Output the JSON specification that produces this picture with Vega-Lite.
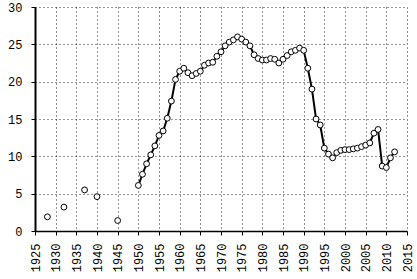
{
  "$schema": "https://vega.github.io/schema/vega-lite/v6.json",
  "width": 372,
  "height": 224,
  "autosize": {"type": "none"},
  "padding": {"left": 35, "top": 7, "right": 10, "bottom": 48},
  "background": "white",
  "config": {
    "view": {"stroke": null},
    "axis": {"labelFont": "Liberation Mono", "labelFontSize": 12, "labelColor": "black", "domainColor": "black", "tickColor": "black", "gridColor": "black", "gridDash": [1, 3], "gridOpacity": 0.85}
  },
  "data": {"values": [
    {"year": 1928, "value": 1.9, "g": "early"},
    {"year": 1932, "value": 3.2, "g": "early"},
    {"year": 1937, "value": 5.5, "g": "early"},
    {"year": 1940, "value": 4.6, "g": "early"},
    {"year": 1945, "value": 1.4, "g": "early"},
    {"year": 1950, "value": 6.1, "g": "main"},
    {"year": 1951, "value": 7.6, "g": "main"},
    {"year": 1952, "value": 9.0, "g": "main"},
    {"year": 1953, "value": 10.2, "g": "main"},
    {"year": 1954, "value": 11.4, "g": "main"},
    {"year": 1955, "value": 12.8, "g": "main"},
    {"year": 1956, "value": 13.4, "g": "main"},
    {"year": 1957, "value": 15.1, "g": "main"},
    {"year": 1958, "value": 17.4, "g": "main"},
    {"year": 1959, "value": 20.3, "g": "main"},
    {"year": 1960, "value": 21.4, "g": "main"},
    {"year": 1961, "value": 21.8, "g": "main"},
    {"year": 1962, "value": 21.2, "g": "main"},
    {"year": 1963, "value": 20.8, "g": "main"},
    {"year": 1964, "value": 21.1, "g": "main"},
    {"year": 1965, "value": 21.4, "g": "main"},
    {"year": 1966, "value": 22.2, "g": "main"},
    {"year": 1967, "value": 22.5, "g": "main"},
    {"year": 1968, "value": 22.6, "g": "main"},
    {"year": 1969, "value": 23.4, "g": "main"},
    {"year": 1970, "value": 24.0, "g": "main"},
    {"year": 1971, "value": 24.8, "g": "main"},
    {"year": 1972, "value": 25.3, "g": "main"},
    {"year": 1973, "value": 25.6, "g": "main"},
    {"year": 1974, "value": 26.0, "g": "main"},
    {"year": 1975, "value": 25.7, "g": "main"},
    {"year": 1976, "value": 25.3, "g": "main"},
    {"year": 1977, "value": 24.8, "g": "main"},
    {"year": 1978, "value": 23.6, "g": "main"},
    {"year": 1979, "value": 23.1, "g": "main"},
    {"year": 1980, "value": 22.9, "g": "main"},
    {"year": 1981, "value": 22.9, "g": "main"},
    {"year": 1982, "value": 23.1, "g": "main"},
    {"year": 1983, "value": 23.0, "g": "main"},
    {"year": 1984, "value": 22.5, "g": "main"},
    {"year": 1985, "value": 23.0, "g": "main"},
    {"year": 1986, "value": 23.5, "g": "main"},
    {"year": 1987, "value": 24.0, "g": "main"},
    {"year": 1988, "value": 24.2, "g": "main"},
    {"year": 1989, "value": 24.5, "g": "main"},
    {"year": 1990, "value": 24.2, "g": "main"},
    {"year": 1991, "value": 21.8, "g": "main"},
    {"year": 1992, "value": 19.0, "g": "main"},
    {"year": 1993, "value": 15.0, "g": "main"},
    {"year": 1994, "value": 14.2, "g": "main"},
    {"year": 1995, "value": 11.1, "g": "main"},
    {"year": 1996, "value": 10.3, "g": "main"},
    {"year": 1997, "value": 9.8, "g": "main"},
    {"year": 1998, "value": 10.5, "g": "main"},
    {"year": 1999, "value": 10.8, "g": "main"},
    {"year": 2000, "value": 10.9, "g": "main"},
    {"year": 2001, "value": 10.9, "g": "main"},
    {"year": 2002, "value": 11.0, "g": "main"},
    {"year": 2003, "value": 11.1, "g": "main"},
    {"year": 2004, "value": 11.3, "g": "main"},
    {"year": 2005, "value": 11.5, "g": "main"},
    {"year": 2006, "value": 11.8, "g": "main"},
    {"year": 2007, "value": 13.1, "g": "main"},
    {"year": 2008, "value": 13.6, "g": "main"},
    {"year": 2009, "value": 8.7, "g": "main"},
    {"year": 2010, "value": 8.5, "g": "main"},
    {"year": 2011, "value": 9.8, "g": "main"},
    {"year": 2012, "value": 10.6, "g": "main"}
  ]},
  "encoding": {
    "x": {"field": "year", "type": "quantitative",
      "scale": {"domain": [1925, 2015], "nice": false, "zero": false},
      "axis": {"title": null, "values": [1925,1930,1935,1940,1945,1950,1955,1960,1965,1970,1975,1980,1985,1990,1995,2000,2005,2010,2015], "format": "d", "labelAngle": -90, "labelAlign": "right", "labelBaseline": "middle", "labelPadding": 8, "tickSize": 4, "domainWidth": 1.5, "labelFlush": false}},
    "y": {"field": "value", "type": "quantitative",
      "scale": {"domain": [0, 30], "nice": false},
      "axis": {"title": null, "values": [0,5,10,15,20,25,30], "tickSize": 4, "labelPadding": 9, "domainWidth": 2, "labelFlush": false}}
  },
  "layer": [
    {"transform": [{"filter": "datum.g == 'main'"}],
     "mark": {"type": "line", "color": "black", "strokeWidth": 2}},
    {"mark": {"type": "point", "shape": "circle", "filled": true, "fill": "white", "stroke": "black", "strokeWidth": 1, "size": 34, "opacity": 1}}
  ]
}
